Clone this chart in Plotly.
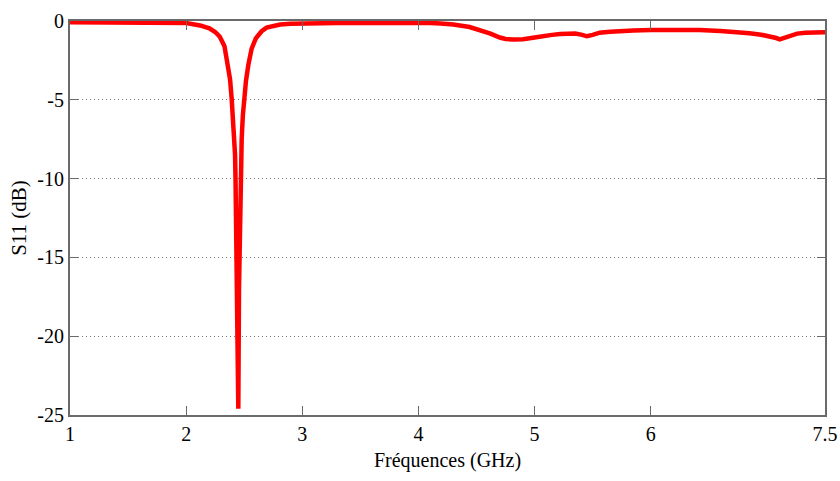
import plotly.graph_objects as go

freq_ghz = [1.0, 1.5, 1.8, 2.0, 2.12, 2.2, 2.25, 2.29, 2.33, 2.36, 2.378, 2.392,
            2.412, 2.421, 2.425, 2.429, 2.436, 2.442, 2.449, 2.455, 2.462, 2.470,
            2.478, 2.488, 2.499, 2.515, 2.535, 2.564, 2.60, 2.62, 2.65, 2.693,
            2.75, 2.81, 2.9, 3.0, 3.3, 3.6, 3.9, 4.1, 4.19, 4.3, 4.44, 4.55,
            4.62, 4.7, 4.75, 4.82, 4.9, 5.0, 5.05, 5.15, 5.22, 5.3, 5.35, 5.41,
            5.45, 5.5, 5.56, 5.65, 5.74, 5.85, 6.0, 6.2, 6.42, 6.6, 6.75, 6.85,
            6.95, 7.03, 7.08, 7.11, 7.15, 7.2, 7.26, 7.33, 7.4, 7.5]
s11_db = [-0.08, -0.09, -0.11, -0.13, -0.28, -0.47, -0.7, -1.0, -1.6, -2.7, -3.7, -4.95,
          -7.0, -8.5, -10.0, -12.0, -15.0, -20.0, -24.6, -17.0, -12.0, -9.8,
          -7.5, -6.0, -5.0, -3.8, -2.8, -1.75, -1.1, -0.88, -0.65, -0.42,
          -0.3, -0.22, -0.17, -0.15, -0.13, -0.12, -0.1, -0.12, -0.16, -0.22, -0.38, -0.6,
          -0.8, -1.05, -1.14, -1.18, -1.16, -1.05, -0.98, -0.88, -0.82, -0.78, -0.8, -0.88,
          -0.97, -0.88, -0.74, -0.68, -0.63, -0.6, -0.57, -0.56, -0.57, -0.63, -0.7, -0.78,
          -0.87, -0.96, -1.08, -1.16, -1.05, -0.89, -0.8, -0.75, -0.72, -0.72]

x_tick_vals = [1, 2, 3, 4, 5, 6, 7.5]
x_tick_text = ["1", "2", "3", "4", "5", "6", "7.5"]
y_tick_vals = [0, -5, -10, -15, -20, -25]
y_tick_text = ["0", "-5", "-10", "-15", "-20", "-25"]

font_family = "Liberation Serif, Times New Roman, Times, serif"

fig = go.Figure()
fig.add_trace(go.Scatter(x=freq_ghz, y=s11_db, mode="lines",
                         line=dict(color="#ff0000", width=4.5),
                         hoverinfo="skip", showlegend=False))

fig.update_layout(
    width=840, height=481,
    margin=dict(l=70, r=15, t=21, b=66),
    paper_bgcolor="white", plot_bgcolor="white",
    font=dict(family=font_family, size=18, color="black"),
    showlegend=False,
)
fig.update_xaxes(
    range=[1, 7.5], tickvals=x_tick_vals, ticktext=x_tick_text,
    showgrid=False, zeroline=False, automargin=False,
    showline=True, linecolor="#6a6a6a", linewidth=2, mirror="ticks",
    ticks="inside", ticklen=9, tickcolor="#6a6a6a", tickwidth=1,
    tickfont=dict(family=font_family, size=20),
    title=dict(text="Fréquences (GHz)", font=dict(family=font_family, size=20), standoff=9),
)
fig.update_yaxes(
    range=[-25, 0], tickvals=y_tick_vals, ticktext=y_tick_text,
    showgrid=True, gridcolor="#777777", griddash="1px,3px", gridwidth=1,
    zeroline=False, automargin=False,
    showline=True, linecolor="#6a6a6a", linewidth=2, mirror="ticks",
    ticks="inside", ticklen=8, tickcolor="#6a6a6a", tickwidth=1,
    tickfont=dict(family=font_family, size=20),
    title=dict(text="S11 (dB)", font=dict(family=font_family, size=21), standoff=5),
)

fig.write_html("out.html", config={"displayModeBar": False},
               post_script="document.body.style.margin='0';document.body.style.overflow='hidden';")
